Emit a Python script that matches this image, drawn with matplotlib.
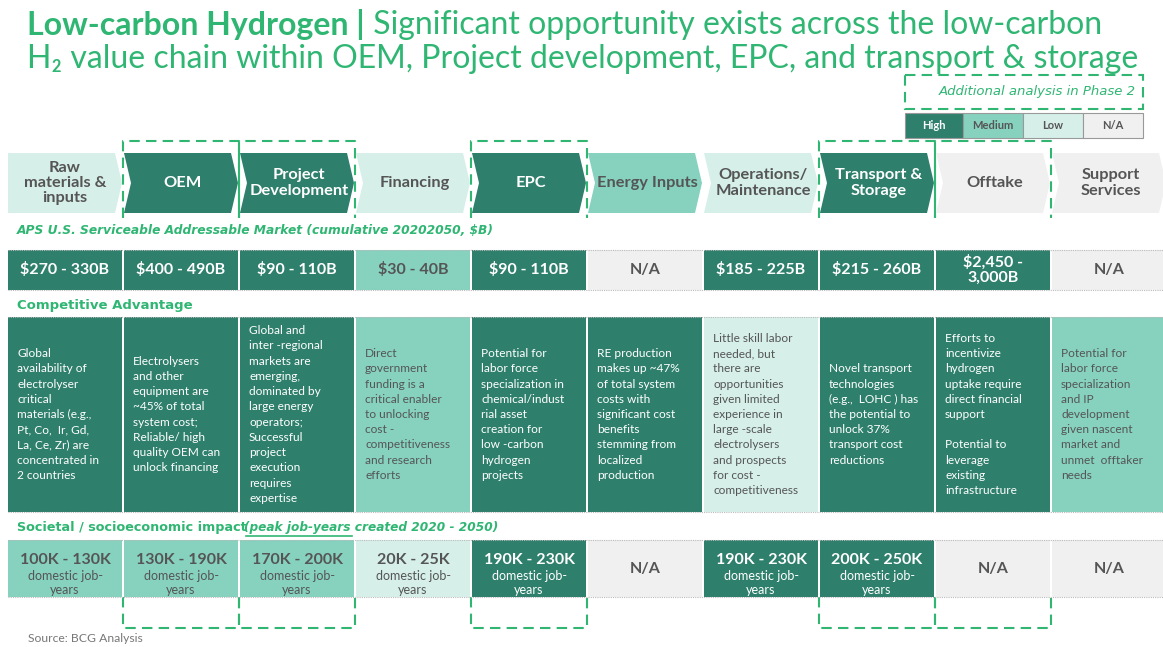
import matplotlib.pyplot as plt
from matplotlib.patches import Polygon, Rectangle

plt.rcParams['font.family'] = ['Lato', 'DejaVu Sans']

# Datos
etapas = ["Raw\nmaterials &\ninputs", "OEM", "Project\nDevelopment", "Financing", "EPC",
          "Energy Inputs", "Operations/\nMaintenance", "Transport &\nStorage", "Offtake",
          "Support\nServices"]
nivel_etapa = ["low", "high", "high", "low", "high", "med", "low", "high", "na", "na"]

sam_valores = ["$270 - 330B", "$400 - 490B", "$90 - 110B", "$30 - 40B", "$90 - 110B", "N/A",
               "$185 - 225B", "$215 - 260B", "$2,450 -\n3,000B", "N/A"]
sam_nivel = ["high", "high", "high", "med", "high", "na", "high", "high", "high", "na"]

ventaja_textos = [
    "Global\navailability of\nelectrolyser\ncritical\nmaterials (e.g.,\nPt, Co,  Ir, Gd,\nLa, Ce, Zr) are\nconcentrated in\n2 countries",
    "Electrolysers\nand other\nequipment are\n~45% of total\nsystem cost;\nReliable/ high\nquality OEM can\nunlock financing",
    "Global and\ninter -regional\nmarkets are\nemerging,\ndominated by\nlarge energy\noperators;\nSuccessful\nproject\nexecution\nrequires\nexpertise",
    "Direct\ngovernment\nfunding is a\ncritical enabler\nto unlocking\ncost -\ncompetitiveness\nand research\nefforts",
    "Potential for\nlabor force\nspecialization in\nchemical/indust\nrial asset\ncreation for\nlow -carbon\nhydrogen\nprojects",
    "RE production\nmakes up ~47%\nof total system\ncosts with\nsignificant cost\nbenefits\nstemming from\nlocalized\nproduction",
    "Little skill labor\nneeded, but\nthere are\nopportunities\ngiven limited\nexperience in\nlarge -scale\nelectrolysers\nand prospects\nfor cost -\ncompetitiveness",
    "Novel transport\ntechnologies\n(e.g.,  LOHC ) has\nthe potential to\nunlock 37%\ntransport cost\nreductions",
    "Efforts to\nincentivize\nhydrogen\nuptake require\ndirect financial\nsupport\n\nPotential to\nleverage\nexisting\ninfrastructure",
    "Potential for\nlabor force\nspecialization\nand IP\ndevelopment\ngiven nascent\nmarket and\nunmet  offtaker\nneeds",
]
ventaja_nivel = ["high", "high", "high", "med", "high", "high", "low", "high", "high", "med"]

empleos_valores = ["100K - 130K", "130K - 190K", "170K - 200K", "20K - 25K", "190K - 230K", "N/A",
                   "190K - 230K", "200K - 250K", "N/A", "N/A"]
empleos_nivel = ["med", "med", "med", "low", "high", "na", "high", "high", "na", "na"]

fase2 = [1, 2, 4, 7, 8]  # columnas con recuadro punteado

leyenda = ["High", "Medium", "Low", "N/A"]
leyenda_nivel = ["high", "med", "low", "na"]

# Estilos
colores = {"high": "#2E7F6C", "med": "#86D2BF", "low": "#D6F0E9", "na": "#F0F0F0"}
VERDE = "#2FB673"
GRIS = "#555555"
ETIQ = ['DejaVu Sans']

def color_texto(nivel):
    return "white" if nivel == "high" else GRIS

fig = plt.figure(figsize=(11.63, 6.47), dpi=100)
ax = fig.add_axes([0, 0, 1, 1])
ax.set_xlim(0, 1163)
ax.set_ylim(647, 0)
ax.axis('off')

x0, ancho = 7, 116
xs = [x0 + i * ancho for i in range(len(etapas))]

# =======================
# Titulo
# =======================
t1 = ax.text(27, 35, "Low-carbon Hydrogen |", fontsize=23, fontweight='bold', color=VERDE,
             va='baseline')
ax.annotate(" Significant opportunity exists across the low-carbon", xy=(1, 0), xycoords=t1,
            fontsize=23, color=VERDE, va='bottom', ha='left')
ax.text(27, 68, "H\u2082 value chain within OEM, Project development, EPC, and transport & storage",
        fontsize=23, color=VERDE, va='baseline')

# Recuadro fase 2 y leyenda
ax.add_patch(Rectangle((905, 75), 238, 34, fill=False, ec=VERDE, lw=1.5, ls=(0, (5, 3))))
ax.text(1136, 92, "Additional analysis in Phase 2", fontsize=9.5, style='italic', color=VERDE,
        ha='right', va='center', family=ETIQ)
lx = 905
for nombre, niv in zip(leyenda, leyenda_nivel):
    w = 58 if nombre == "High" else 60
    ax.add_patch(Rectangle((lx, 113), w, 25, fc=colores[niv], ec="#999999", lw=0.8))
    ax.text(lx + w / 2, 125.5, nombre, fontsize=8, fontweight='bold', color=color_texto(niv),
            ha='center', va='center')
    lx += w

# =======================
# Fila de etapas (chevrons)
# =======================
arriba, abajo, d = 153, 213, 7
medio = (arriba + abajo) / 2
for i, (etapa, niv) in enumerate(zip(etapas, nivel_etapa)):
    a, b = xs[i] + 1, xs[i] + ancho - 1
    izq = a if i == 0 else a + d
    pts = [(a, arriba), (b - d, arriba), (b, medio), (b - d, abajo), (a, abajo), (izq, medio)]
    ax.add_patch(Polygon(pts, closed=True, fc=colores[niv], ec='none', zorder=2))
    ax.text((a + b) / 2 + (0 if i == 0 else 2), medio, etapa, fontsize=11.8, fontweight='bold',
            color=color_texto(niv), ha='center', va='center', linespacing=1.1, zorder=3)

# Recuadros punteados (parte superior e inferior)
for i in fase2:
    a, b = xs[i], xs[i] + ancho
    estilo = dict(color=VERDE, lw=1.5, ls=(0, (5, 3)), zorder=1)
    ax.plot([a, a, b, b], [218, 141, 141, 218], **estilo)
    ax.plot([a, a, b, b], [597, 628, 628, 597], **estilo)

# =======================
# Filas de celdas
# =======================
def fila(y0, y1, niveles):
    for i, niv in enumerate(niveles):
        ax.add_patch(Rectangle((xs[i] + 1, y0), ancho - 2, y1 - y0, fc=colores[niv], ec='none', zorder=2))
    for y in (y0, y1):
        ax.plot([xs[0] + 1, 1163], [y, y], color="#BBBBBB", lw=0.8, ls=(0, (1, 1)), zorder=3)

# Mercado
ax.text(17, 231, "APS U.S. Serviceable Addressable Market (cumulative 20202050, $B)", fontsize=8.8,
        fontweight='bold', style='italic', color=VERDE, va='center', family=ETIQ)
fila(250, 290, sam_nivel)
for i, (v, niv) in enumerate(zip(sam_valores, sam_nivel)):
    ax.text(xs[i] + ancho / 2, 270, v, fontsize=11.5, fontweight='bold', color=color_texto(niv),
            ha='center', va='center', linespacing=1.1, zorder=4)

# Ventaja competitiva
ax.text(17, 305, "Competitive Advantage", fontsize=9.5, fontweight='bold', color=VERDE,
        va='center', family=ETIQ)
fila(317, 512, ventaja_nivel)
for i, (t, niv) in enumerate(zip(ventaja_textos, ventaja_nivel)):
    ax.text(xs[i] + 10, 414.5, t, fontsize=8.6, color=color_texto(niv), ha='left', va='center',
            linespacing=1.47, zorder=4)

# Impacto social
ax.text(17, 527, "Societal / socioeconomic impact", fontsize=9.2, fontweight='bold', color=VERDE,
        va='center', family=ETIQ)
ax.text(244, 527, "(peak job-years created 2020 - 2050)", fontsize=8.7, fontweight='bold',
        style='italic', color=VERDE, va='center', family=ETIQ)
ax.plot([246, 352], [536, 536], color=VERDE, lw=1.2)
fila(540, 597, empleos_nivel)
for i, (v, niv) in enumerate(zip(empleos_valores, empleos_nivel)):
    cx = xs[i] + ancho / 2
    if v == "N/A":
        ax.text(cx, 568.5, v, fontsize=11.5, fontweight='bold', color=color_texto(niv),
                ha='center', va='center', zorder=4)
    else:
        ax.text(cx, 560, v, fontsize=11.5, fontweight='bold', color=color_texto(niv),
                ha='center', va='center', zorder=4)
        ax.text(cx, 583, "domestic job-\nyears", fontsize=9, color=color_texto(niv),
                ha='center', va='center', linespacing=1.25, zorder=4)

ax.text(28, 639, "Source: BCG Analysis", fontsize=8.7, color="#777777", va='center')

plt.savefig("out.png", dpi=100)
